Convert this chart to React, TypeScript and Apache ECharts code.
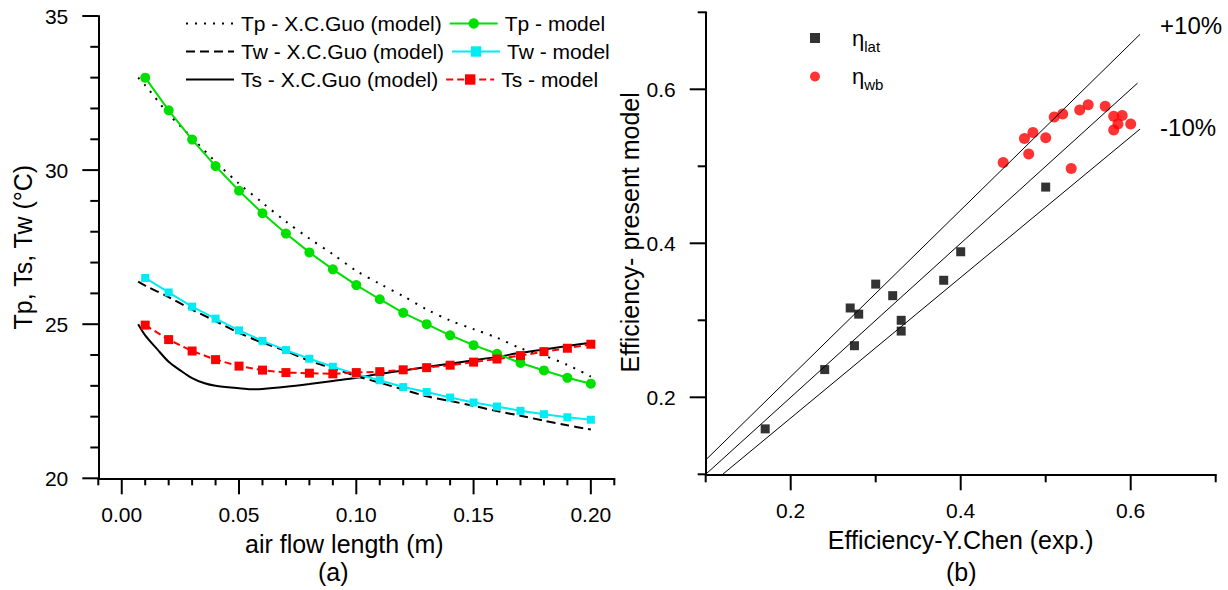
import { useEffect, useRef } from 'react';
import * as echarts from 'echarts';

// ---------- (a) temperature profiles ----------
const modelX = [0.01, 0.02, 0.03, 0.04, 0.05, 0.06, 0.07, 0.08, 0.09, 0.10, 0.11, 0.12, 0.13, 0.14, 0.15, 0.16, 0.17, 0.18, 0.19, 0.20];
const tpModel = [33.0, 31.94, 30.99, 30.13, 29.33, 28.6, 27.94, 27.33, 26.78, 26.27, 25.81, 25.37, 25.0, 24.64, 24.32, 24.04, 23.74, 23.5, 23.26, 23.07];
const twModel = [26.5, 26.03, 25.57, 25.18, 24.8, 24.46, 24.16, 23.88, 23.62, 23.38, 23.18, 22.96, 22.8, 22.62, 22.46, 22.33, 22.19, 22.08, 21.98, 21.9];
const tsModel = [24.97, 24.5, 24.13, 23.85, 23.64, 23.51, 23.43, 23.41, 23.39, 23.43, 23.46, 23.52, 23.59, 23.67, 23.77, 23.87, 23.98, 24.11, 24.22, 24.35];

const guoX = [0.007, 0.01, 0.02, 0.03, 0.04, 0.05, 0.06, 0.07, 0.08, 0.09, 0.10, 0.11, 0.12, 0.13, 0.14, 0.15, 0.16, 0.17, 0.18, 0.19, 0.20];
const tpGuo = [33.0, 32.75, 31.82, 31.05, 30.27, 29.56, 28.94, 28.33, 27.78, 27.27, 26.73, 26.31, 25.91, 25.48, 25.12, 24.84, 24.56, 24.22, 23.98, 23.68, 23.3];
const twGuo = [26.38, 26.25, 25.88, 25.47, 25.1, 24.72, 24.4, 24.13, 23.81, 23.57, 23.32, 23.1, 22.88, 22.66, 22.51, 22.35, 22.18, 22.03, 21.87, 21.72, 21.58];
const tsGuoX = [0.007, 0.01, 0.015, 0.02, 0.025, 0.03, 0.035, 0.04, 0.05, 0.055, 0.06, 0.07, 0.08, 0.09, 0.10, 0.11, 0.12, 0.13, 0.14, 0.15, 0.16, 0.17, 0.18, 0.19, 0.20];
const tsGuo = [25.0, 24.64, 24.2, 23.78, 23.5, 23.25, 23.09, 23.0, 22.92, 22.89, 22.9, 22.97, 23.06, 23.16, 23.26, 23.39, 23.5, 23.61, 23.72, 23.83, 23.94, 24.07, 24.18, 24.29, 24.4];

// (a) axis ticks
const leftXMinorTicks = [-0.01, 0.01, 0.02, 0.03, 0.04, 0.06, 0.07, 0.08, 0.09, 0.11, 0.12, 0.13, 0.14, 0.16, 0.17, 0.18, 0.19, 0.21];
const leftXMajorTicks = [0, 0.05, 0.1, 0.15, 0.2];
const leftYMinorTicks = [21, 22, 23, 24, 26, 27, 28, 29, 31, 32, 33, 34];
const leftYMajorTicks = [20, 25, 30, 35];

// ---------- (b) efficiency comparison ----------
const latExp = [0.17, 0.24, 0.27, 0.275, 0.28, 0.3, 0.32, 0.33, 0.33, 0.38, 0.4, 0.5];
const latModel = [0.159, 0.236, 0.316, 0.267, 0.308, 0.347, 0.332, 0.3, 0.286, 0.352, 0.389, 0.473];
const wbExp = [0.45, 0.475, 0.48, 0.485, 0.5, 0.51, 0.52, 0.53, 0.54, 0.55, 0.57, 0.58, 0.58, 0.585, 0.59, 0.6];
const wbModel = [0.505, 0.536, 0.516, 0.544, 0.537, 0.564, 0.568, 0.497, 0.573, 0.58, 0.578, 0.565, 0.547, 0.555, 0.566, 0.555];

const plus10X = [0.1, 0.611];
const plus10Y = [0.1186, 0.6714];
const equalX = [0.1, 0.608];
const equalY = [0.1, 0.608];
const minus10X = [0.12, 0.611];
const minus10Y = [0.1, 0.5484];

// (b) axis ticks (same on both axes)
const rightMinorTicks = [0.1, 0.3, 0.5, 0.7];
const rightMajorTicks = [0.2, 0.4, 0.6];

const FONT = 'Liberation Sans, Arial, sans-serif';
const BLACK = '#000';
const pair = (xs: number[], ys: number[]) => xs.map((x, i) => [x, ys[i]]);

const LABEL = { fontSize: 21, fontFamily: FONT, color: BLACK };
const NAME = { fontSize: 25, fontFamily: FONT, color: BLACK };

const hasTick = (list: number[], v: number, digits: number) =>
  list.some((t) => t.toFixed(digits) === v.toFixed(digits));

// tick marks: thin rect symbols placed through the axis scales
function tickSeries(grid: number, dir: 'x' | 'y', values: number[], base: number, len: number) {
  return {
    type: 'scatter',
    xAxisIndex: grid,
    yAxisIndex: grid,
    silent: true,
    clip: false,
    z: 100,
    symbol: 'rect',
    symbolSize: dir === 'x' ? [2, len] : [len, 2],
    symbolOffset: dir === 'x' ? [0, len / 2] : [-len / 2, 0],
    itemStyle: { color: BLACK, opacity: 1 },
    emphasis: { disabled: true },
    data: values.map((v) => (dir === 'x' ? [v, base] : [base, v])),
  };
}

function valueAxis(grid: number, position: string, min: number, max: number, interval: number, majors: number[], digits: number, margin: number, name: string, nameGap: number, padding: number[]) {
  return {
    gridIndex: grid, type: 'value', position, min, max, interval,
    axisLine: { show: true, onZero: false, lineStyle: { color: BLACK, width: 2 } },
    axisTick: { show: false },
    axisLabel: {
      show: true, margin, ...LABEL,
      formatter: (v: number) => (hasTick(majors, v, digits) ? v.toFixed(digits) : ''),
    },
    splitLine: { show: false },
    name, nameLocation: 'middle', nameGap,
    nameTextStyle: { ...NAME, padding },
  };
}

export default function App() {
  const ref = useRef<HTMLDivElement>(null);

  useEffect(() => {
    if (!ref.current) return;
    const chart = echarts.init(ref.current, undefined, { renderer: 'svg' });
    const option = {
      animation: false,
      backgroundColor: '#fff',
      textStyle: { fontFamily: FONT },
      grid: [
        { left: 98.3, top: 16, width: 516, height: 462.3 },
        { left: 705.7, top: 12.3, width: 510, height: 462 },
      ],
      xAxis: [
        valueAxis(0, 'bottom', -0.01, 0.21, 0.01, leftXMajorTicks, 2, 26, 'air flow length (m)', 53, [0, 24, 0, 0]),
        valueAxis(1, 'bottom', 0.1, 0.7, 0.1, rightMajorTicks, 1, 26, 'Efficiency-Y.Chen (exp.)', 53, [0, 0, 0, 0]),
      ],
      yAxis: [
        valueAxis(0, 'left', 20, 35, 1, leftYMajorTicks, 0, 30, 'Tp, Ts, Tw (\u00B0C)', 63, [0, 0, 0, 0]),
        valueAxis(1, 'left', 0.1, 0.7, 0.1, rightMajorTicks, 1, 30, 'Efficiency- present model', 60, [0, 0, 0, 22]),
      ],
      legend: [
        {
          data: [
            { name: 'Tp - X.C.Guo (model)', itemStyle: { opacity: 0 } },
            'Tp - model',
            { name: 'Tw - X.C.Guo (model)', itemStyle: { opacity: 0 } },
            'Tw - model',
            { name: 'Ts - X.C.Guo (model)', itemStyle: { opacity: 0 } },
            'Ts - model',
          ],
          left: 180,
          top: 8,
          width: 445,
          itemWidth: 48,
          itemHeight: 13,
          itemGap: 7,
          textStyle: { fontSize: 21, fontFamily: FONT, color: BLACK, lineHeight: 19, padding: [0, 0, 0, 2] },
        },
        {
          data: ['\u03B7lat', '\u03B7wb'],
          orient: 'vertical',
          left: 805,
          top: 22,
          itemWidth: 10,
          itemHeight: 10,
          itemGap: 12,
          formatter: (name: string) => '{g|\u03B7}{s|' + name.slice(1) + '}',
          textStyle: {
            color: BLACK,
            padding: [0, 0, 0, 27],
            rich: {
              g: { fontSize: 22, fontFamily: FONT, color: BLACK },
              s: { fontSize: 15, fontFamily: FONT, color: BLACK, padding: [16, 0, 0, 0] },
            },
          },
        },
      ],
      series: [
        tickSeries(0, 'x', leftXMinorTicks, 20, 7),
        tickSeries(0, 'x', leftXMajorTicks, 20, 16),
        tickSeries(0, 'y', leftYMinorTicks, -0.01, 8),
        tickSeries(0, 'y', leftYMajorTicks, -0.01, 16),
        tickSeries(1, 'x', rightMinorTicks, 0.1, 8),
        tickSeries(1, 'x', rightMajorTicks, 0.1, 16),
        tickSeries(1, 'y', rightMinorTicks, 0.1, 8),
        tickSeries(1, 'y', rightMajorTicks, 0.1, 16),
        {
          name: 'Tp - X.C.Guo (model)', type: 'line', xAxisIndex: 0, yAxisIndex: 0,
          data: pair(guoX, tpGuo), smooth: 0.3, showSymbol: false, symbol: 'none',
          lineStyle: { color: BLACK, width: 2, type: [2, 7] }, itemStyle: { color: BLACK },
        },
        {
          name: 'Tw - X.C.Guo (model)', type: 'line', xAxisIndex: 0, yAxisIndex: 0,
          data: pair(guoX, twGuo), smooth: 0.3, showSymbol: false, symbol: 'none',
          lineStyle: { color: BLACK, width: 2, type: [9, 5] }, itemStyle: { color: BLACK },
        },
        {
          name: 'Ts - X.C.Guo (model)', type: 'line', xAxisIndex: 0, yAxisIndex: 0,
          data: pair(tsGuoX, tsGuo), smooth: 0.3, showSymbol: false, symbol: 'none',
          lineStyle: { color: BLACK, width: 2 }, itemStyle: { color: BLACK },
        },
        {
          name: 'Tp - model', type: 'line', xAxisIndex: 0, yAxisIndex: 0,
          data: pair(modelX, tpModel), symbol: 'circle', symbolSize: 10,
          lineStyle: { color: '#00e000', width: 2 }, itemStyle: { color: '#00e000' },
        },
        {
          name: 'Tw - model', type: 'line', xAxisIndex: 0, yAxisIndex: 0,
          data: pair(modelX, twModel), symbol: 'rect', symbolSize: 8,
          lineStyle: { color: '#00ecf5', width: 2 }, itemStyle: { color: '#00ecf5' },
        },
        {
          name: 'Ts - model', type: 'line', xAxisIndex: 0, yAxisIndex: 0,
          data: pair(modelX, tsModel), symbol: 'rect', symbolSize: 9,
          lineStyle: { color: '#ff0000', width: 2, type: [7, 4] }, itemStyle: { color: '#ff0000' },
        },
        {
          name: 'plus10', type: 'line', xAxisIndex: 1, yAxisIndex: 1, silent: true,
          data: pair(plus10X, plus10Y), symbol: 'none',
          lineStyle: { color: BLACK, width: 1 },
          endLabel: { show: true, formatter: '+10%', offset: [12, -9], fontSize: 24, fontFamily: FONT, color: BLACK },
        },
        {
          name: 'equal', type: 'line', xAxisIndex: 1, yAxisIndex: 1, silent: true,
          data: pair(equalX, equalY), symbol: 'none',
          lineStyle: { color: BLACK, width: 1 },
        },
        {
          name: 'minus10', type: 'line', xAxisIndex: 1, yAxisIndex: 1, silent: true,
          data: pair(minus10X, minus10Y), symbol: 'none',
          lineStyle: { color: BLACK, width: 1 },
          endLabel: { show: true, formatter: '-10%', offset: [12, -2], fontSize: 24, fontFamily: FONT, color: BLACK },
        },
        {
          name: '\u03B7lat', type: 'scatter', xAxisIndex: 1, yAxisIndex: 1,
          data: pair(latExp, latModel), symbol: 'rect', symbolSize: 9,
          itemStyle: { color: BLACK },
        },
        {
          name: '\u03B7wb', type: 'scatter', xAxisIndex: 1, yAxisIndex: 1,
          data: pair(wbExp, wbModel), symbol: 'circle', symbolSize: 11,
          itemStyle: { color: '#ff0000' },
        },
      ],
      graphic: [
        { type: 'text', left: 332 - 14, top: 559, style: { text: '(a)', fontSize: 25, fontFamily: FONT, fill: BLACK } },
        { type: 'text', left: 960 - 14, top: 559, style: { text: '(b)', fontSize: 25, fontFamily: FONT, fill: BLACK } },
      ],
    };
    chart.setOption(option as any);
    return () => chart.dispose();
  }, []);

  return (
    <div
      ref={ref}
      style={{ position: 'absolute', left: 0, top: 0, width: 1228, height: 590, background: '#fff' }}
    />
  );
}
